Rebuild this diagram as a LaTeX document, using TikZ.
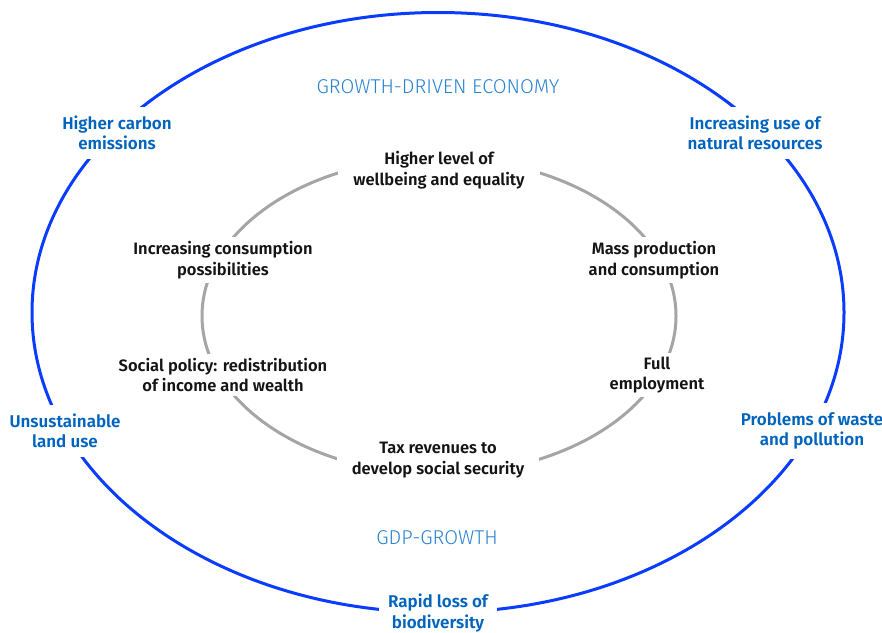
\documentclass[tikz,border=0pt]{standalone}
\usepackage{fontspec}
\setmainfont{Fira Sans}[BoldFont={Fira Sans SemiBold}]
\newfontfamily\thinfont{Fira Sans Light}
\definecolor{ringblue}{RGB}{10,60,255}
\definecolor{ringgray}{RGB}{165,165,165}
\definecolor{impactblue}{RGB}{0,100,190}
\definecolor{titleblue}{RGB}{40,130,210}
\definecolor{cycletext}{RGB}{20,20,20}
\begin{document}
\begin{tikzpicture}[x=1pt,y=-1pt]
	\tikzset{
	  impact/.style={align=center, fill=white, text=impactblue, inner xsep=9pt, inner ysep=9pt,
	    font=\fontsize{17}{20.5}\selectfont\bfseries},
	  cycle/.style={align=center, fill=white, text=cycletext, inner xsep=15pt, inner ysep=4pt,
	    font=\fontsize{16.5}{20.5}\selectfont\bfseries},
	  title/.style={text=titleblue, font=\fontsize{20}{24}\selectfont\thinfont}}
	\useasboundingbox (0,0) rectangle (882,632);
	\coordinate (O) at (438,312.5);
	\coordinate (C) at (439,316);
	% the two rings
	\draw [ringblue, line width=3pt] (O) ellipse [x radius=406pt, y radius=300pt];
	\draw [ringgray, line width=3pt] (C) ellipse [x radius=237pt, y radius=158pt];
	% outer ring: effects on nature
	\node [impact] (carbon) at (117,133) {Higher carbon\\emissions};
	\node [impact] (resources) at (755,133) {Increasing use of\\natural resources};
	\node [impact] (land) at (65,431) {Unsustainable\\land use};
	\node [impact] (waste) at (812,431) {Problems of waste\\and pollution};
	\node [impact] (biodiv) at (438,613) {Rapid loss of\\biodiversity};
	% inner ring: the growth cycle
	\node [cycle] (wellbeing) at (439,170) {Higher level of\\wellbeing and equality};
	\node [cycle] (massprod) at (654,260) {Mass production\\and consumption};
	\node [cycle] (employ) at (657,375) {Full\\employment};
	\node [cycle] (tax) at (438,460) {Tax revenues to\\develop social security};
	\node [cycle] (policy) at (223,375) {Social policy: redistribution\\of income and wealth};
	\node [cycle] (consume) at (223,260) {Increasing consumption\\possibilities};
	% titles
	\node [title] (economy) at (438,87) {GROWTH-DRIVEN ECONOMY};
	\node [title] (gdp) at (437,538) {GDP-GROWTH};
\end{tikzpicture}
\end{document}
